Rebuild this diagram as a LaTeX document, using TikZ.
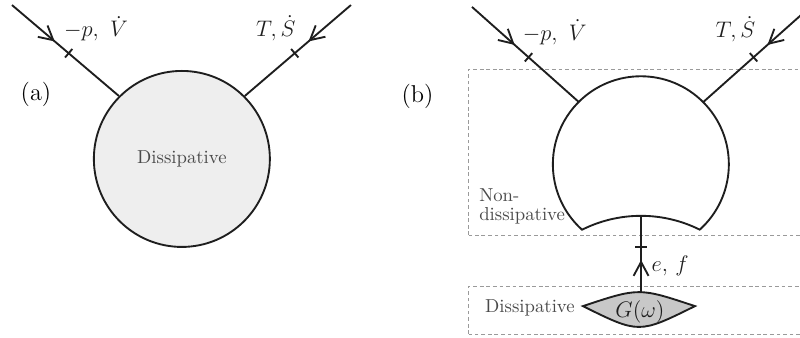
\documentclass[tikz,border=0pt]{standalone}
\usepackage{amsmath}
\usetikzlibrary{arrows.meta, positioning, calc, decorations.markings}
\definecolor{inkline}{HTML}{1E1E1E}
\definecolor{inkfill}{HTML}{EEEEEE}
\definecolor{inklens}{HTML}{C8C8C8}
\definecolor{inkgrey}{HTML}{4A4A4A}
\definecolor{inkdash}{HTML}{9A9A9A}
\tikzset{
  bond/.style 2 args={draw=inkline, line width=1pt, postaction={decorate},
    decoration={markings,
      mark=at position #1 with {\arrow[inkline]{Straight Barb[length=2.6mm, width=2.8mm]}},
      mark=at position #2 with {\draw[inkline, line width=1pt] (0,-1.05mm) -- (0,1.05mm);}}},
  dashbox/.style={draw=inkdash, line width=0.4pt, dash pattern=on 2pt off 1.5pt},
  mathlbl/.style={text=inkline, font=\fontsize{12.5}{14}\selectfont},
  plainlbl/.style={text=inkgrey, inner sep=0pt}
}

\begin{document}
\begin{tikzpicture}
  \useasboundingbox (0,0) rectangle (15,6.32);
  \clip (0,0) rectangle (15,6.32);

  % (a)
  \node[circle, draw=inkline, line width=1pt, fill=inkfill, minimum size=3.3cm,
        inner sep=0pt, text=inkgrey] (diss) at (3.41,3.34) {Dissipative};
  \coordinate (apin) at (0.225,6.225);
  \coordinate (atin) at (6.58,6.225);
  \draw[bond={0.40}{0.53}] (apin) -- (diss.135);
  \draw[bond={0.40}{0.53}] (atin) -- (diss.45);
  \node[mathlbl, inner sep=1pt] (apv) at (1.80,5.78) {$-p,\ \dot V$};
  \node[mathlbl, inner sep=1pt] (ats) at (5.17,5.79) {$T,\dot S$};
  \node[font=\fontsize{13}{15}\selectfont] (alab) at (0.675,4.556) {(a)};

  % (b)
  \draw[dashbox] (8.79,1.91) rectangle (15.3,5.025);
  \draw[dashbox] (8.79,0.056) rectangle (15.3,0.956);
  \coordinate (ndc) at (12.02,3.24);
  \coordinate (ndl) at ($(ndc)+(135:1.65)$);
  \coordinate (ndr) at ($(ndc)+(45:1.65)$);
  \coordinate (ndb) at (12.02,2.274);
  \draw[inkline, line width=1pt] ($(ndc)+(228:1.65)$)
    arc[start angle=116.5, end angle=63.5, radius=2.47]
    arc[start angle=312, end angle=588, radius=1.65] -- cycle;
  \coordinate (bpin) at (8.85,6.19);
  \coordinate (btin) at (15.19,6.19);
  \draw[bond={0.40}{0.53}] (bpin) -- (ndl);
  \draw[bond={0.40}{0.53}] (btin) -- (ndr);
  \node[mathlbl, inner sep=1pt] (bpv) at (10.40,5.72) {$-p,\ \dot V$};
  \node[mathlbl, inner sep=1pt] (bts) at (13.79,5.77) {$T,\dot S$};
  \node[font=\fontsize{13}{15}\selectfont] (blab) at (7.83,4.52) {(b)};
  \node[plainlbl, align=left, anchor=west] (ndlbl) at (8.98,2.45) {Non-\\[-2pt]dissipative};

  \coordinate (gl) at (10.93,0.58);
  \coordinate (gr) at (13.03,0.58);
  \coordinate (gtop) at (12.02,0.844);
  \draw[inkline, line width=1pt, fill=inklens] (gl) .. controls (11.98,0.93) .. (gr)
    .. controls (11.98,0.06) .. (gl) -- cycle;
  \node[mathlbl] (gw) at (12.0,0.47) {$G(\omega)$};
  \draw[bond={0.42}{0.59}] (gtop) -- (ndb);
  \node[mathlbl, anchor=west, inner sep=0pt] (ef) at (12.21,1.33) {$e,\,f$};
  \node[plainlbl, anchor=west] (dlbl) at (9.09,0.55) {Dissipative};
\end{tikzpicture}
\end{document}
